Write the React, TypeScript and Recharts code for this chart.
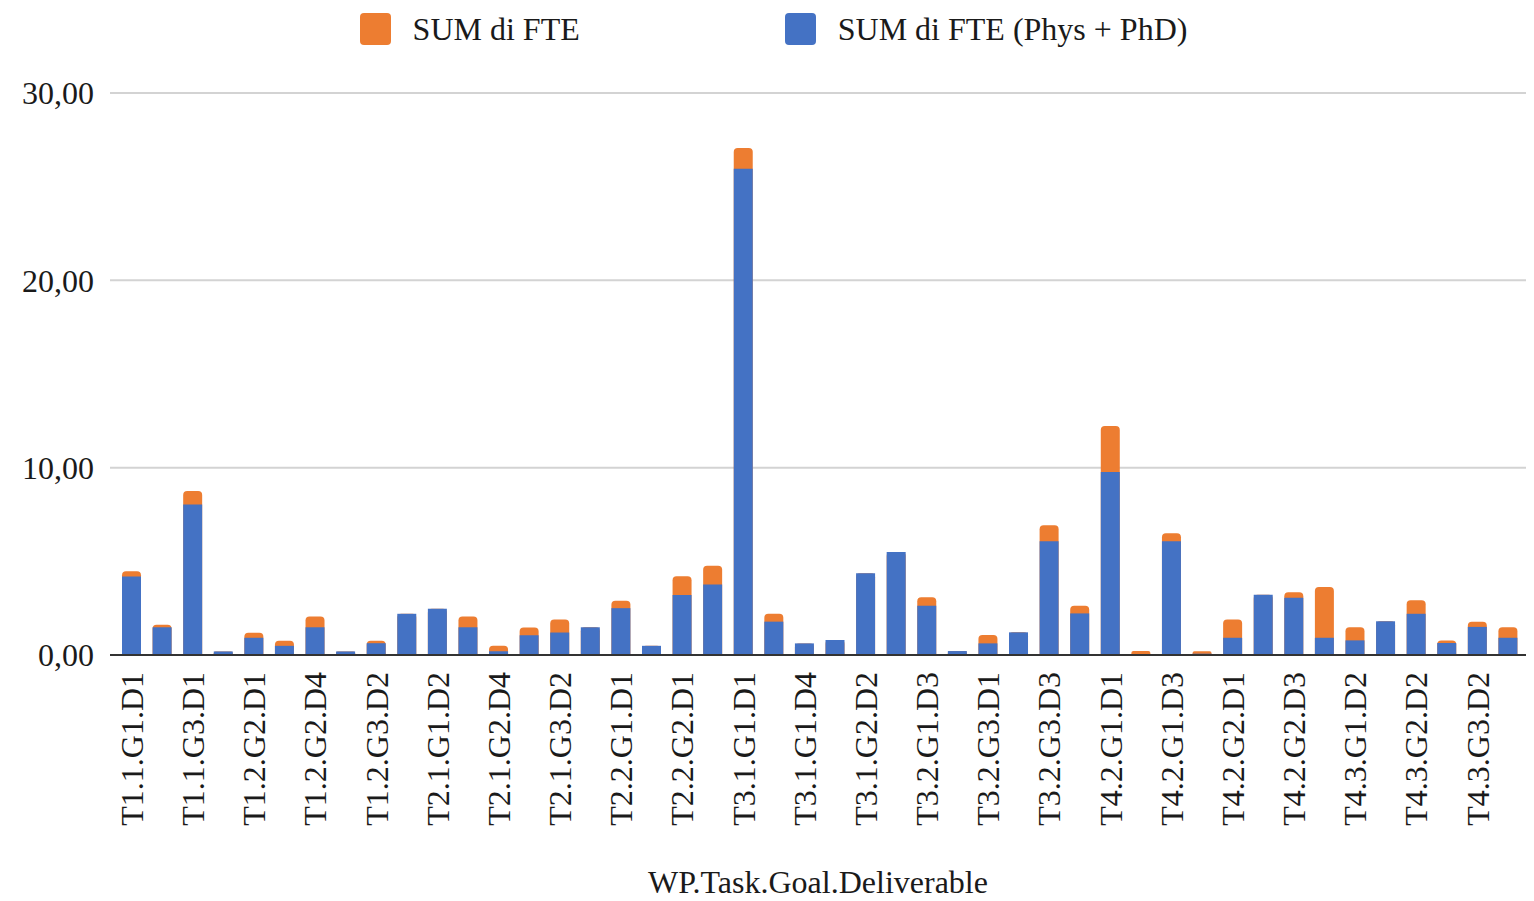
import React from 'react';
import { BarChart, Bar, XAxis, YAxis, CartesianGrid, Legend } from 'recharts';

const categories = [
  'T1.1.G1.D1', 'T1.1.G2.D1', 'T1.1.G3.D1', 'T1.2.G1.D1', 'T1.2.G2.D1', 'T1.2.G2.D2',
  'T1.2.G2.D4', 'T1.2.G3.D1', 'T1.2.G3.D2', 'T2.1.G1.D1', 'T2.1.G1.D2', 'T2.1.G2.D1',
  'T2.1.G2.D4', 'T2.1.G3.D1', 'T2.1.G3.D2', 'T2.1.G3.D3', 'T2.2.G1.D1', 'T2.2.G1.D2',
  'T2.2.G2.D1', 'T2.2.G2.D2', 'T3.1.G1.D1', 'T3.1.G1.D2', 'T3.1.G1.D4', 'T3.1.G2.D1',
  'T3.1.G2.D2', 'T3.2.G1.D1', 'T3.2.G1.D3', 'T3.2.G2.D1', 'T3.2.G3.D1', 'T3.2.G3.D2',
  'T3.2.G3.D3', 'T4.1.G1.D1', 'T4.2.G1.D1', 'T4.2.G1.D2', 'T4.2.G1.D3', 'T4.2.G1.D4',
  'T4.2.G2.D1', 'T4.2.G2.D2', 'T4.2.G2.D3', 'T4.3.G1.D1', 'T4.3.G1.D2', 'T4.3.G2.D1',
  'T4.3.G2.D2', 'T4.3.G3.D1', 'T4.3.G3.D2', 'T4.3.G3.D3',
];

const sumFte = [
  4.47, 1.61, 8.75, 0.19, 1.19, 0.76, 2.06, 0.19, 0.76, 2.2, 2.47, 2.06,
  0.49, 1.47, 1.9, 1.48, 2.9, 0.49, 4.2, 4.77, 27.07, 2.2, 0.62, 0.8,
  4.36, 5.5, 3.08, 0.21, 1.07, 1.21, 6.92, 2.63, 12.22, 0.21, 6.5, 0.2,
  1.9, 3.22, 3.35, 3.63, 1.48, 1.8, 2.92, 0.78, 1.78, 1.48,
];

const sumFtePhysPhd = [
  4.19, 1.48, 8.04, 0.19, 0.92, 0.49, 1.48, 0.19, 0.63, 2.2, 2.47, 1.48,
  0.2, 1.06, 1.2, 1.48, 2.5, 0.49, 3.2, 3.77, 25.95, 1.78, 0.62, 0.8,
  4.36, 5.5, 2.63, 0.21, 0.62, 1.21, 6.07, 2.22, 9.77, 0.05, 6.07, 0.07,
  0.92, 3.22, 3.06, 0.92, 0.78, 1.8, 2.2, 0.64, 1.5, 0.92,
];

const yTicks = [0, 10, 20, 30];

const seriesNames = ['SUM di FTE', 'SUM di FTE (Phys + PhD)'];
const seriesColors = ['#ED7D31', '#4472C4'];
const xTitle = 'WP.Task.Goal.Deliverable';

const data = categories.map((c, i) => ({
  name: c,
  total: sumFte[i],
  physPhd: sumFtePhysPhd[i],
}));

const FONT = '"Liberation Serif", "Times New Roman", serif';
const FS = 32;

const XTick = (props: any) => {
  const { x, y, payload } = props;
  return (
    <g transform={`translate(${x},${y})`}>
      <text
        transform="rotate(-90)"
        textAnchor="end"
        x={0}
        y={0}
        dy="0.36em"
        fontFamily={FONT}
        fontSize={FS}
        fill="#1a1a1a"
      >
        {payload.value}
      </text>
    </g>
  );
};

const renderLegend = () => (
  <div
    style={{
      height: 42,
      display: 'flex',
      justifyContent: 'center',
      alignItems: 'center',
      paddingLeft: 13,
      boxSizing: 'border-box',
      fontFamily: FONT,
      fontSize: FS,
      color: '#1a1a1a',
    }}
  >
    {seriesNames.map((n, i) => (
      <div
        key={n}
        style={{ display: 'flex', alignItems: 'center', marginLeft: i === 0 ? 0 : 205 }}
      >
        <div
          style={{
            width: 31,
            height: 32,
            borderRadius: 4,
            background: seriesColors[i],
            marginRight: 22,
          }}
        />
        <span>{n}</span>
      </div>
    ))}
  </div>
);

export default function App() {
  return (
    <div style={{ width: 1518, height: 892 }}>
      <BarChart
        width={1518}
        height={892}
        data={data}
        margin={{ top: 43, right: 0, bottom: 0, left: 0 }}
        barSize={19}
        barGap={-19}
        style={{ overflow: 'visible' }}
      >
        <Legend verticalAlign="top" content={renderLegend} wrapperStyle={{ top: 0, left: 0, width: 1518 }} />
        <CartesianGrid vertical={false} stroke="#d3d3d3" strokeWidth={2} />
        <XAxis
          dataKey="name"
          interval={1}
          height={245}
          tick={<XTick />}
          tickLine={false}
          tickMargin={11}
          axisLine={{ stroke: '#333333', strokeWidth: 2 }}
          padding={{ left: 6, right: 3 }}
          label={{
            value: xTitle,
            position: 'insideBottom',
            offset: 7,
            fontFamily: FONT,
            fontSize: FS,
            fill: '#1a1a1a',
          }}
        />
        <YAxis
          width={102}
          domain={[0, 30]}
          ticks={yTicks}
          axisLine={false}
          tickLine={false}
          tickMargin={10}
          tickFormatter={(v: number) => v.toFixed(2).replace('.', ',')}
          tick={{ fontFamily: FONT, fontSize: FS, fill: '#1a1a1a' }}
        />
        <Bar
          dataKey="total"
          name={seriesNames[0]}
          fill={seriesColors[0]}
          radius={[4, 4, 0, 0]}
          isAnimationActive={false}
        />
        <Bar
          dataKey="physPhd"
          name={seriesNames[1]}
          fill={seriesColors[1]}
          isAnimationActive={false}
        />
      </BarChart>
    </div>
  );
}
